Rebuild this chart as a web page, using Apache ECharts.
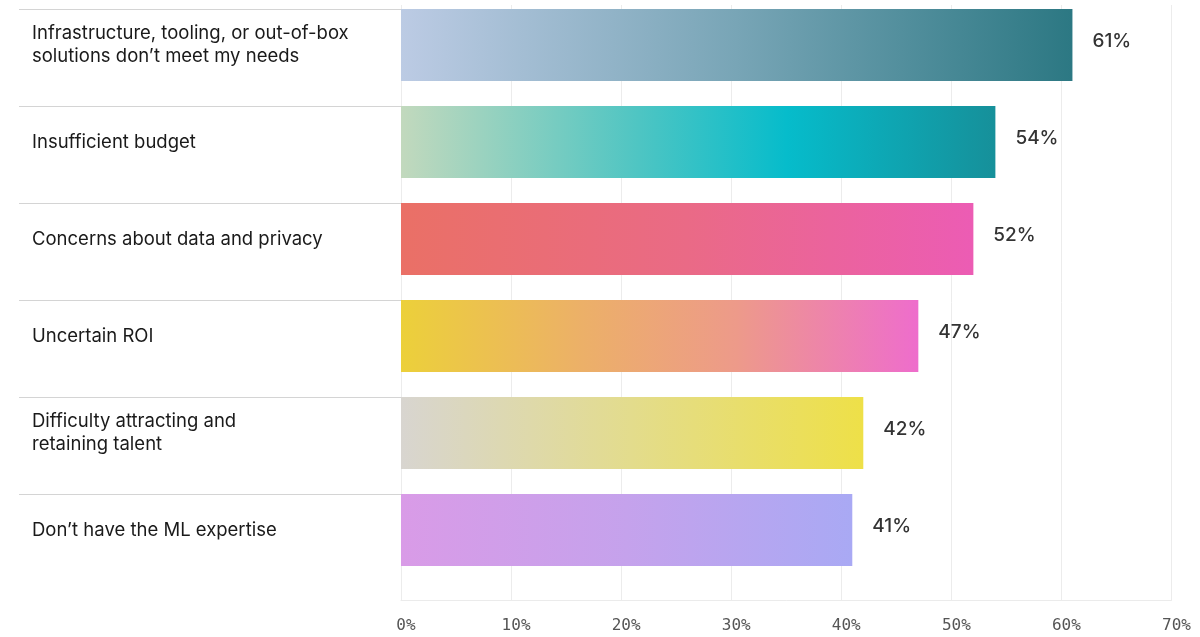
<!DOCTYPE html>
<html>
<head>
<meta charset="utf-8">
<script src="https://cdn.jsdelivr.net/npm/echarts@6/dist/echarts.min.js"></script>
<style>
  html, body { margin: 0; padding: 0; background: #ffffff; }
  #chart { width: 1200px; height: 637px; }
</style>
</head>
<body>
<div id="chart"></div>
<script>
// Barriers to AI adoption, share of respondents (%)
const categories = [
  'Infrastructure, tooling, or out-of-box\nsolutions don\u2019t meet my needs',
  'Insufficient budget',
  'Concerns about data and privacy',
  'Uncertain ROI',
  'Difficulty attracting and\nretaining talent',
  'Don\u2019t have the ML expertise'
];
const values = [61, 54, 52, 47, 42, 41];
const tickValues = [0, 10, 20, 30, 40, 50, 60, 70];

// Left-to-right gradient stops for each bar
const barGradients = [
  [['#bccbe4', 0], ['#78a5b6', 0.5], ['#2c7883', 1]],
  [['#c2d9bd', 0], ['#4ec5c3', 0.4], ['#06bccb', 0.65], ['#16909a', 1]],
  [['#ea7066', 0], ['#ea6a86', 0.5], ['#ec5cb4', 1]],
  [['#ecd03a', 0], ['#ecb068', 0.35], ['#ed9a8a', 0.65], ['#ee6dcc', 1]],
  [['#d8d5d0', 0], ['#e3dc8c', 0.5], ['#eee048', 1]],
  [['#d99be7', 0], ['#c5a2ec', 0.5], ['#a9a9f4', 1]]
];

const SANS = 'Inter, "Liberation Sans", sans-serif';
const MONO = '"DejaVu Sans Mono", "Liberation Mono", monospace';

const barData = values.map((v, i) => ({
  value: v,
  itemStyle: {
    color: new echarts.graphic.LinearGradient(0, 0, 1, 0,
      barGradients[i].map(([c, o]) => ({ offset: o, color: c })))
  }
}));

const chart = echarts.init(document.getElementById('chart'), null, { renderer: 'canvas' });

chart.setOption({
  animation: false,
  backgroundColor: '#ffffff',
  grid: [
    // 0: value grid with vertical lines and percent ticks
    { left: 401, right: 28.5, top: 5, bottom: 37, outerBoundsMode: 'none' },
    // 1: bars and category labels
    { left: 401, right: 28.5, top: -3.5, height: 582, outerBoundsMode: 'none' },
    // 2: row separators on the left
    { left: 19, width: 382, top: 9, height: 582, outerBoundsMode: 'none' }
  ],
  xAxis: [
    {
      gridIndex: 0, type: 'value', min: 0, max: 70, interval: 10,
      axisLine: { show: true, lineStyle: { color: '#ebebeb', width: 1 } },
      axisTick: { show: false },
      splitLine: { show: true, lineStyle: { color: '#ececec', width: 1 } },
      axisLabel: {
        show: true, margin: 18, fontFamily: MONO, fontSize: 16, color: '#555555',
        padding: [0, 0, 0, 10],
        formatter: v => tickValues.includes(v) ? v + '%' : ''
      }
    },
    {
      gridIndex: 1, type: 'value', min: 0, max: 70, interval: 10, show: false
    },
    {
      gridIndex: 2, type: 'value', min: 0, max: 1, show: false
    }
  ],
  yAxis: [
    { gridIndex: 0, type: 'value', show: false },
    {
      gridIndex: 1, type: 'category', inverse: true, data: categories,
      axisLine: { show: false }, axisTick: { show: false },
      splitLine: { show: false },
      axisLabel: {
        align: 'left', margin: 369, fontFamily: SANS, fontSize: 18.5,
        lineHeight: 23, color: '#1a1a1a'
      }
    },
    {
      gridIndex: 2, type: 'category', inverse: true, data: categories,
      axisLine: { show: false }, axisTick: { show: false }, axisLabel: { show: false },
      splitLine: {
        show: true, showMinLine: true, showMaxLine: false,
        lineStyle: { color: '#d4d4d4', width: 1 }
      }
    }
  ],
  series: [
    {
      type: 'bar', xAxisIndex: 1, yAxisIndex: 1,
      data: barData,
      barWidth: 72,
      label: {
        show: true, position: 'right', distance: 20, offset: [0, -4],
        formatter: '{c}%', fontFamily: SANS, fontSize: 19, fontWeight: 500,
        color: '#333333'
      }
    }
  ]
});
</script>
</body>
</html>
